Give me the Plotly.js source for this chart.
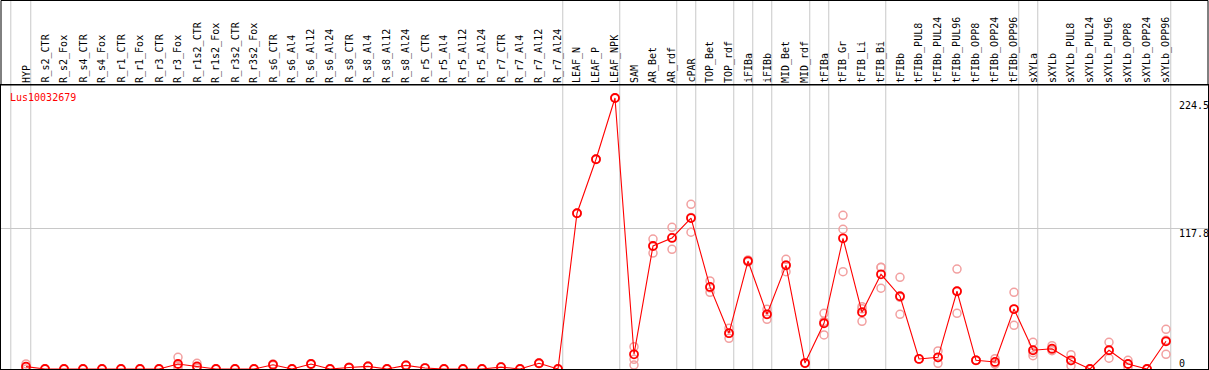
<!DOCTYPE html>
<html>
<head>
<meta charset="utf-8">
<script src="https://cdn.plot.ly/plotly-3.0.1.min.js"></script>
<style>
html,body{margin:0;padding:0;background:#fff;}
#chart{width:1209px;height:370px;}
</style>
</head>
<body>
<div id="chart"></div>
<script>
// ---- data ----
var categories = ["HYP","R_s2_CTR","R_s2_Fox","R_s4_CTR","R_s4_Fox","R_r1_CTR","R_r1_Fox","R_r3_CTR","R_r3_Fox",
  "R_r1s2_CTR","R_r1s2_Fox","R_r3s2_CTR","R_r3s2_Fox","R_s6_CTR","R_s6_Al4","R_s6_Al12","R_s6_Al24",
  "R_s8_CTR","R_s8_Al4","R_s8_Al12","R_s8_Al24","R_r5_CTR","R_r5_Al4","R_r5_Al12","R_r5_Al24",
  "R_r7_CTR","R_r7_Al4","R_r7_Al12","R_r7_Al24","LEAF_N","LEAF_P","LEAF_NPK","SAM","AR_Bet","AR_rdf",
  "cPAR","TOP_Bet","TOP_rdf","iFIBa","iFIBb","MID_Bet","MID_rdf","tFIBa","tFIB_Gr","tFIB_Li","tFIB_Bi",
  "tFIBb","tFIBb_PUL8","tFIBb_PUL24","tFIBb_PUL96","tFIBb_OPP8","tFIBb_OPP24","tFIBb_OPP96",
  "sXYLa","sXYLb","sXYLb_PUL8","sXYLb_PUL24","sXYLb_PUL96","sXYLb_OPP8","sXYLb_OPP24","sXYLb_OPP96"];

var meanValues = [2.0,0,0,0,0,0,0,0,4.2,
  2.2,0,0,0,3.6,0,4.2,0,
  1.2,2.2,0,3.0,0.8,0,0,0,
  1.6,0,4.8,0,130.4,175.6,226.9,12.3,103.0,109.7,
  126.4,68.7,30.0,90.4,45.8,86.8,5.0,38.3,109.4,47.5,79.3,
  60.9,8.4,9.8,65.1,7.3,5.9,50.2,
  15.7,17.0,7.3,0,15.7,4.2,0,23.2];

var rep1 = [4.2,0,0,0,0,0,0,0,9.8,
  4.8,0,0,0,4.2,0,4.5,0,
  1.5,2.5,0,3.3,0.8,0,0,0,
  1.8,0,5.0,0,130.4,175.6,226.9,18.7,108.8,118.6,
  137.9,73.7,34.1,91.3,50.0,91.8,5.0,46.6,128.7,52.2,85.1,
  76.8,8.4,15.1,83.7,7.3,8.6,64.2,
  22.4,19.5,12.0,0,22.4,7.3,0,33.2];

var rep2 = [1.9,0,0,0,0,0,0,0,2.4,
  1.4,0,0,0,3.6,0,4.2,0,
  1.2,2.2,0,3.0,0.8,0,0,0,
  1.6,0,4.8,0,130.4,175.6,226.9,8.1,97.1,100.2,
  114.5,64.2,25.7,89.6,41.6,81.5,5.0,28.5,117.0,39.9,67.6,
  45.8,8.4,4.8,46.6,7.3,5.0,36.6,
  11.1,15.3,2.8,0,9.0,1.4,0,12.3];

var rep3 = [0,0,0,0,0,0,0,0,0.4,
  0.4,0,0,0,3.0,0,3.9,0,
  0.9,1.9,0,2.7,0.8,0,0,0,
  1.4,0,4.6,0,130.4,175.6,226.9,3.3,103.0,110.0,
  126.8,68.0,30.0,90.4,45.8,87.0,5.0,39.8,81.5,50.4,85.0,
  60.0,8.4,9.5,65.0,7.3,4.0,50.0,
  13.6,16.2,7.0,0,15.7,4.0,0,24.0];

var yTickVals = [0, 117.8, 224.5];
var yTickText = ["0", "117.8", "224.5"];
var geneName = "Lus10032679";
// indices after which a grey separator is drawn
var separatorAfter = [-1, 0, 28, 31, 34, 35, 37, 38, 39, 41, 42, 45, 52, 53, 60];

// ---- build ----
var idx = categories.map(function(_, i){ return i; });
var repX = [], repY = [];
[rep1, rep2, rep3].forEach(function(r){
  r.forEach(function(v, i){ if (v !== null) { repX.push(i); repY.push(v); } });
});

var font = "DejaVu Sans Mono, monospace";

var traces = [
  {
    type: "scatter", mode: "markers", x: repX, y: repY,
    marker: {symbol: "circle-open", size: 8, color: "#f2a0a0", line: {width: 1.5, color: "#f2a0a0"}},
    hoverinfo: "skip"
  },
  {
    type: "scatter", mode: "lines+markers", x: idx, y: meanValues,
    line: {color: "#ff0000", width: 1.1},
    marker: {symbol: "circle-open", size: 8, color: "#ff0000", line: {width: 1.8, color: "#ff0000"}}
  }
];

var plotH = 370 - 85 - 1;
var pxPerUnit = 140.7 / 117.8;
var shapes = separatorAfter.map(function(b){
  return {type: "line", xref: "x", yref: "paper", x0: b + (b < 0 ? 0.2 : 0.25), x1: b + (b < 0 ? 0.2 : 0.25),
    y0: 0, y1: 1 + 85 / plotH, line: {color: "#c8c8c8", width: 1}, layer: "below"};
});
shapes.push({type: "rect", xref: "paper", yref: "paper", x0: 0, x1: 1, y0: 1, y1: 1 + 84.5 / plotH,
  line: {color: "#000", width: 1}});

var annotations = categories.map(function(c, i){
  return {text: c, x: i, xref: "x", y: 1, yref: "paper", xanchor: "center", yanchor: "bottom",
    textangle: -90, showarrow: false, font: {family: font, size: 10, color: "#000"}, yshift: 0};
});
annotations.push({text: geneName, xref: "paper", x: 6.5 / 1207, y: 1, yref: "paper", xanchor: "left",
  yanchor: "top", yshift: -5, showarrow: false, font: {family: font, size: 10, color: "#ff0000"}});
var yShifts = [6, -5, -5];
yTickVals.forEach(function(v, k){
  annotations.push({text: yTickText[k], xref: "paper", x: 1175.5 / 1207, y: v, yref: "y",
    xanchor: "left", yanchor: "middle", yshift: yShifts[k], showarrow: false,
    font: {family: font, size: 10, color: "#000"}});
});

var x0 = -25 / 19;
var layout = {
  width: 1209, height: 370,
  margin: {l: 1, r: 1, t: 85, b: 1, pad: 0},
  paper_bgcolor: "#fff", plot_bgcolor: "#fff",
  showlegend: false,
  xaxis: {range: [x0, x0 + 1207 / 19], showgrid: false, zeroline: false, showticklabels: false,
    ticks: "", showline: true, mirror: true, linecolor: "#000", linewidth: 1, fixedrange: true},
  yaxis: {range: [0, plotH / pxPerUnit], tickvals: [117.8], showgrid: true, gridcolor: "#c8c8c8",
    gridwidth: 1, showticklabels: false, zeroline: false, ticks: "", showline: true, mirror: true,
    linecolor: "#000", linewidth: 1, fixedrange: true},
  shapes: shapes,
  annotations: annotations
};

Plotly.newPlot("chart", traces, layout, {displayModeBar: false, staticPlot: true});
</script>
</body>
</html>
